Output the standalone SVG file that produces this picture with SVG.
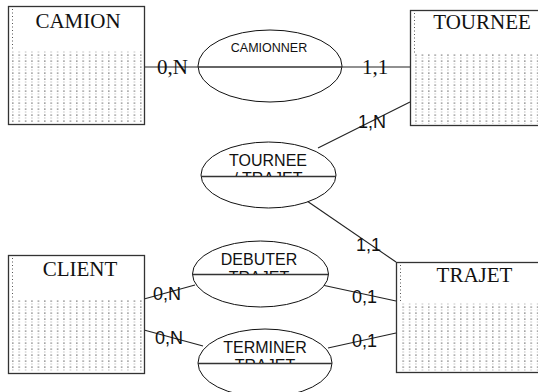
<svg xmlns="http://www.w3.org/2000/svg" width="538" height="392" viewBox="0 0 538 392">
<style>
.box{fill:#fff;stroke:#333;stroke-width:1.3}
.dots{fill:url(#dotpat)}
.vdot{stroke:#555;stroke-width:1;stroke-dasharray:1 2.5}
.title{font-family:"Liberation Serif",serif;font-size:21px;fill:#111;text-anchor:middle}
.rel{fill:#fff;stroke:#111;stroke-width:1}
.div{stroke:#333;stroke-width:1.3}
.rname{font-family:"Liberation Sans",Arial,sans-serif;font-size:16px;fill:#111;text-anchor:middle}
.conn line{stroke:#222;stroke-width:1.1}
.card{font-family:"Liberation Sans",Arial,sans-serif;font-size:18px;fill:#111}
.cardt{font-family:"Liberation Serif",serif;font-size:21px;fill:#111}
</style>
<defs>
<pattern id="dotpat" patternUnits="userSpaceOnUse" x="12" y="0" width="6.4" height="6">
<rect x="0.2" y="0.5" width="1.2" height="1.2" fill="#555"/>
<rect x="0.3" y="3.5" width="1" height="1" fill="#999"/>
</pattern>
<clipPath id="c1"><rect x="190" y="130" width="160" height="46"/></clipPath>
<clipPath id="c2"><rect x="180" y="230" width="170" height="44"/></clipPath>
<clipPath id="c3"><rect x="180" y="320" width="170" height="43"/></clipPath>
</defs>

<g id="connectors" class="conn">
<line x1="144" y1="67" x2="198" y2="67"/>
<line x1="342" y1="67" x2="410" y2="67"/>
<line x1="410" y1="102" x2="318" y2="148"/>
<line x1="307" y1="201" x2="396" y2="262"/>
<line x1="144" y1="299" x2="195" y2="285"/>
<line x1="322" y1="285" x2="396" y2="301"/>
<line x1="144" y1="330" x2="203" y2="346"/>
<line x1="328" y1="348" x2="396" y2="333"/>
<text class="cardt" x="157" y="74">0,N</text>
<text class="cardt" x="362" y="74">1,1</text>
<text class="card" x="358" y="128">1,N</text>
<text class="card" x="356" y="251">1,1</text>
<text class="card" x="153" y="300">0,N</text>
<text class="card" x="352" y="303">0,1</text>
<text class="card" x="155" y="344">0,N</text>
<text class="card" x="352" y="347">0,1</text>
</g>

<g id="camion">
<rect class="box" x="8.5" y="6.5" width="136" height="118"/>
<rect class="dots" x="10" y="50" width="133" height="73"/>
<line class="vdot" x1="12.5" y1="9" x2="12.5" y2="50"/>
<text class="title" x="78" y="28">CAMION</text>
</g>

<g id="tournee">
<rect class="box" x="410.5" y="10.5" width="140" height="115"/>
<rect class="dots" x="412" y="53" width="130" height="71"/>
<line class="vdot" x1="414.5" y1="13" x2="414.5" y2="53"/>
<text class="title" x="482" y="29">TOURNEE</text>
</g>

<g id="client">
<rect class="box" x="8.5" y="255.5" width="136" height="118"/>
<rect class="dots" x="10" y="299" width="133" height="73"/>
<line class="vdot" x1="12.5" y1="258" x2="12.5" y2="299"/>
<text class="title" x="80" y="276">CLIENT</text>
</g>

<g id="trajet">
<rect class="box" x="396.5" y="262.5" width="150" height="110"/>
<rect class="dots" x="398" y="303" width="142" height="68"/>
<line class="vdot" x1="400.5" y1="265" x2="400.5" y2="303"/>
<text class="title" x="474.5" y="282">TRAJET</text>
</g>

<g id="camionner">
<ellipse class="rel" cx="270" cy="66" rx="72" ry="36"/>
<line class="div" x1="198" y1="67" x2="342" y2="67"/>
<text class="rname" x="269" y="52" style="font-size:12.5px">CAMIONNER</text>
</g>

<g id="tournee-trajet">
<ellipse class="rel" cx="268.5" cy="175" rx="67.5" ry="33"/>
<line class="div" x1="201" y1="176.5" x2="336" y2="176.5"/>
<text class="rname" x="268" y="166">TOURNEE</text>
<text class="rname" x="268" y="184" clip-path="url(#c1)">/ TRAJET</text>
</g>

<g id="debuter">
<ellipse class="rel" cx="260.5" cy="274" rx="68" ry="33"/>
<line class="div" x1="192.5" y1="274.5" x2="328.5" y2="274.5"/>
<text class="rname" x="259" y="265">DEBUTER</text>
<text class="rname" x="259" y="283" clip-path="url(#c2)">TRAJET</text>
</g>

<g id="terminer">
<ellipse class="rel" cx="265" cy="363" rx="67" ry="34"/>
<line class="div" x1="198" y1="363.5" x2="332" y2="363.5"/>
<text class="rname" x="265" y="353">TERMINER</text>
<text class="rname" x="265" y="371" clip-path="url(#c3)">TRAJET</text>
</g>
</svg>
